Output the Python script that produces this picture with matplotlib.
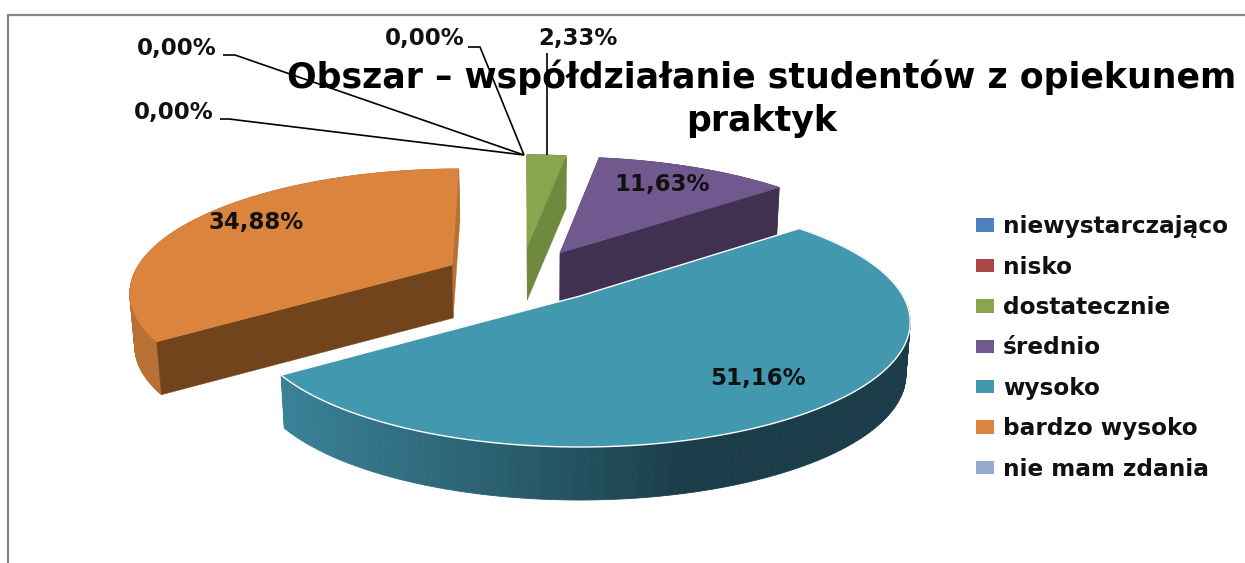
# -*- coding: utf-8 -*-
import numpy as np
import matplotlib
matplotlib.use("Agg")
import matplotlib.pyplot as plt
from matplotlib.patches import Patch

title = "Obszar – współdziałanie studentów z opiekunem\npraktyk"
categories = ["niewystarczająco", "nisko", "dostatecznie", "średnio", "wysoko",
              "bardzo wysoko", "nie mam zdania"]
values = [0.00, 0.00, 2.33, 11.63, 51.16, 34.88, 0.00]
colors = ["#4F81BD", "#AA4643", "#89A54E", "#71588F", "#4198AF", "#DB843D", "#93A9CF"]
wall_colors = ["#3A5A80", "#7A3230", "#6F8A3E", "#5A4672", "#1B3D49", "#B87033", "#6F80A0"]
cut_colors = ["#2A4060", "#5A2220", "#6F8A3E", "#403151", "#1B3D49", "#72441C", "#5A6A88"]

# layout of the exploded slices: apex x, apex y, scale x, scale y, lean
slice_layout = {
    2: (527, 247, 1.00, 0.93, 0.00),
    3: (560, 253, 1.00, 0.97, 0.00),
    4: (580, 296, 1.00, 1.00, 0.00),
    5: (452, 265, 0.97, 0.97, 0.07),
}
draw_order = [5, 2, 3, 4]
front_cut = {2: -1, 3: -1, 5: 0}   # which cut face is seen from the front
depth = 53
A, B, k = 323.0, 119.6, 0.208   # perspective of the pie disc
vanish_x = 545

label_pos = {2: (578, 38), 3: (662, 185), 4: (758, 379), 5: (256, 223)}
zero_labels = [(177, 48), (174, 113), (425, 39)]
leaders = [([223, 235, 524], [55, 55, 155]),
           ([220, 229, 524], [119, 119, 155]),
           ([468, 480, 524], [47, 47, 155]),
           ([547, 547], [53, 155])]


def project(theta, idx):
    cx, cy, sx, sy, lean = slice_layout[idx]
    x = np.sin(theta)
    y = np.cos(theta)
    den = 1 + k * y
    u = sx * A * x / den
    v = sy * B * y / den
    return cx + u + lean * v, cy - v


def drop(px, py):
    # bottom ring is a bit narrower than the top one
    return px + (vanish_x - px) * 0.012, py + depth


def teal_shade(x):
    left = np.array([0x3A, 0x82, 0x98]) / 255
    mid = np.array([0x2A, 0x60, 0x70]) / 255
    right = np.array([0x1B, 0x3D, 0x49]) / 255
    if x < 500:
        t = np.clip((x - 283) / 217, 0, 1)
        return tuple(left + (mid - left) * t)
    t = np.clip((x - 500) / 190, 0, 1)
    return tuple(mid + (right - mid) * t)


fig = plt.figure(figsize=(12.45, 5.63), dpi=100, facecolor="white")
ax = fig.add_axes([0, 0, 1, 1])
ax.set_xlim(0, 1245)
ax.set_ylim(563, 0)
ax.axis("off")

# chart frame
ax.plot([8, 8, 1245], [563, 15, 15], color="#868686", lw=1.6, zorder=1)

edges = np.concatenate([[0], np.cumsum(values)]) / sum(values) * 2 * np.pi

z = 2
for i in draw_order:
    t0, t1 = edges[i], edges[i + 1]
    ts = np.linspace(t0, t1, 160)
    px, py = project(ts, i)
    bx, by = drop(px, py)
    cx, cy = slice_layout[i][:2]
    ax_b, ay_b = drop(cx, cy)
    front = front_cut.get(i)

    # cut faces turned away first
    for e in [0, -1]:
        if e != front:
            ax.fill([cx, px[e], bx[e], ax_b], [cy, py[e], by[e], ay_b],
                    color=wall_colors[i], lw=0.3, zorder=z)
    z += 1

    # outer wall, segment by segment
    for j in range(len(ts) - 1):
        c = teal_shade(px[j]) if i == 4 else wall_colors[i]
        ax.fill([px[j], px[j + 1], bx[j + 1], bx[j]], [py[j], py[j + 1], by[j + 1], by[j]],
                color=c, lw=0.6, zorder=z)
    z += 1

    if front is not None:
        ax.fill([cx, px[front], bx[front], ax_b], [cy, py[front], by[front], ay_b],
                color=cut_colors[i], lw=0.3, zorder=z)
    z += 1

    # top face
    ax.fill(np.r_[cx, px], np.r_[cy, py], facecolor=colors[i],
            edgecolor="white" if i == 4 else colors[i], lw=1.0 if i == 4 else 0.4, zorder=z)
    z += 1

z += 1
for xs, ys in leaders:
    ax.plot(xs, ys, color="black", lw=1.2, zorder=z, solid_capstyle="butt")

# title
ax.text(762, 99, title, ha="center", va="center", fontsize=25, fontweight="bold",
        family="DejaVu Sans", color="black", linespacing=1.35, zorder=z)

# value labels
for i, (x, y) in label_pos.items():
    ax.text(x, y, f"{values[i]:.2f}%".replace(".", ","), ha="center", va="center",
            fontsize=16.5, fontweight="bold", color="#111111", zorder=z + 1)
for n, (x, y) in zip([0, 1, 6], zero_labels):
    ax.text(x, y, f"{values[n]:.2f}%".replace(".", ","), ha="center", va="center",
            fontsize=16.5, fontweight="bold", color="#111111", zorder=z + 1)

handles = [Patch(facecolor=c, edgecolor="none") for c in colors]
leg = ax.legend(handles, categories, loc="center left", bbox_to_anchor=(976, 348),
                bbox_transform=ax.transData, frameon=False,
                prop={"size": 16.7, "weight": "bold"},
                labelspacing=0.75, handlelength=0.78, handleheight=0.52, handletextpad=0.39,
                borderpad=0, borderaxespad=0)
for t in leg.get_texts():
    t.set_color("#111111")

fig.savefig("out.png", dpi=100)
